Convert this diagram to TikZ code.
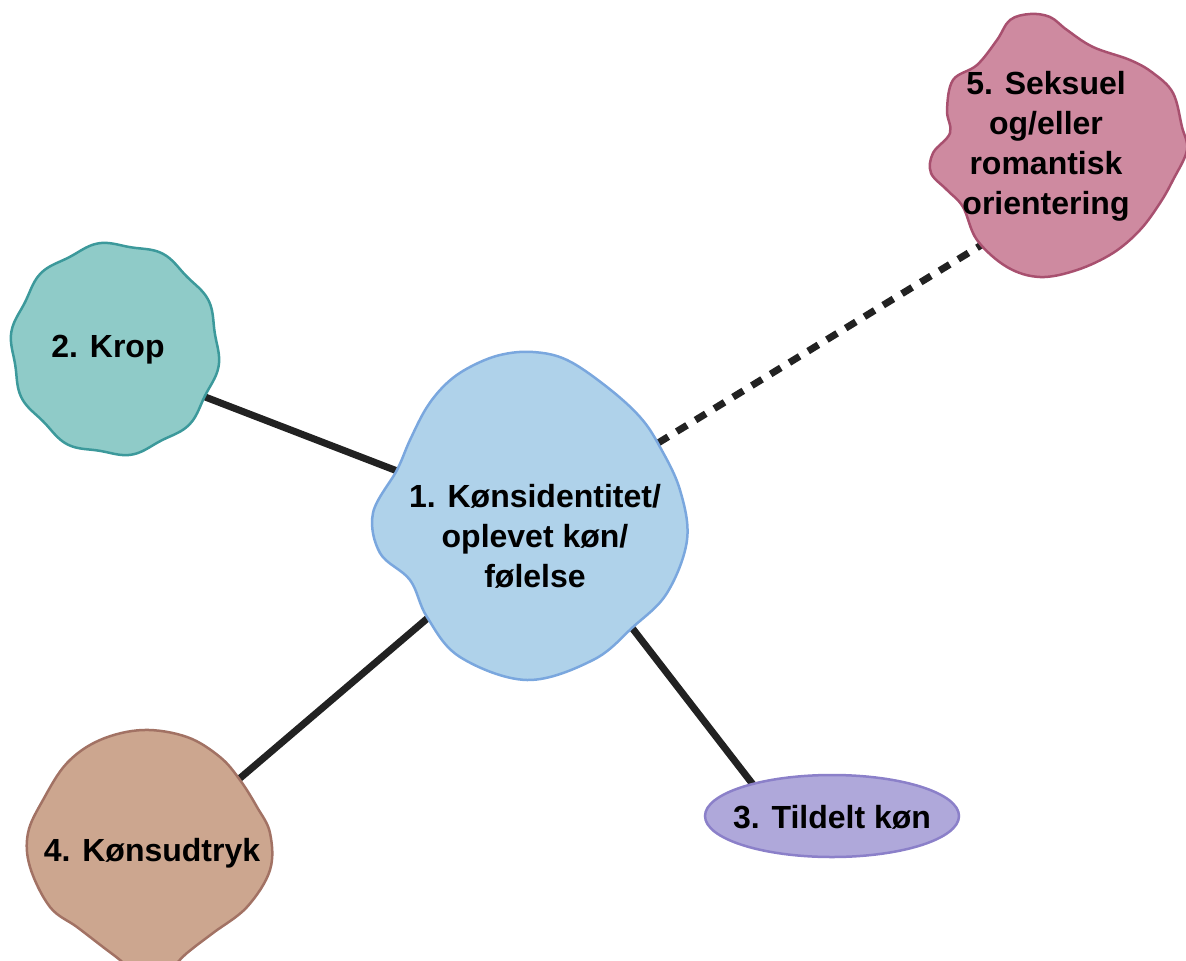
\documentclass[tikz,border=0pt]{standalone}
\usepackage{fontspec}
\setmainfont{Liberation Sans}
\usetikzlibrary{shapes.geometric}
\definecolor{blueF}{HTML}{AFD2EA}
\definecolor{blueD}{HTML}{7AA7DE}
\definecolor{tealF}{HTML}{8FCBC8}
\definecolor{tealD}{HTML}{3C999B}
\definecolor{brownF}{HTML}{CCA68F}
\definecolor{brownD}{HTML}{A27264}
\definecolor{pinkF}{HTML}{CE8AA0}
\definecolor{pinkD}{HTML}{A8506F}
\definecolor{purpF}{HTML}{AFA8DA}
\definecolor{purpD}{HTML}{8B80C9}
\definecolor{lineC}{HTML}{222222}
\tikzset{
  conn/.style={line width=7pt, draw=lineC},
  dotconn/.style={line width=7pt, draw=lineC, dash pattern=on 12pt off 10pt},
  lbl/.style={align=center, font=\bfseries\fontsize{32}{40}\selectfont, text=black, inner sep=0pt},
  blob/.style={line width=2.5pt},
}
\begin{document}
\begin{tikzpicture}[x=1pt,y=-1pt]
\useasboundingbox (0,0) rectangle (1186,961);
% connector end points
\coordinate (c2) at (200,395);
\coordinate (c1a) at (405,474);
\coordinate (c1b) at (436,611);
\coordinate (c4) at (232,785);
\coordinate (c1c) at (626,620);
\coordinate (c3) at (758,791);
\coordinate (c1d) at (658,443);
\coordinate (c5) at (988,241);
% connectors (behind shapes)
\draw[conn] (c2) -- (c1a);
\draw[conn] (c1b) -- (c4);
\draw[conn] (c1c) -- (c3);
\draw[dotconn] (c1d) -- (c5);
% blob 1
\draw[blob, fill=blueF, draw=blueD] plot[smooth cycle, tension=0.6] coordinates {
 (533,352) (567,360) (607,387) (640,417) (660,447) (680,490) (687,540)
 (667,593) (633,627) (593,660) (527,680) (460,657) (427,617) (410,580)
 (380,553) (373,513) (397,470) (410,440) (427,407) (447,383) (470,367) (500,355)};
% blob 2
\draw[blob, fill=tealF, draw=tealD] plot[smooth cycle, domain=0:357, samples=120]
 ({115+(103+2*sin(10*\x))*cos(\x)}, {349+(105+2*sin(10*\x))*sin(\x)});
% blob 4
\draw[blob, fill=brownF, draw=brownD] plot[smooth cycle, tension=0.6] coordinates {
 (143,730) (187,737) (220,757) (240,780) (257,807) (270,833) (270,870)
 (247,907) (213,933) (187,953) (150,985) (120,960) (103,947) (77,927)
 (50,907) (30,867) (28,833) (43,800) (67,763) (100,740)};
% blob 5
\draw[blob, fill=pinkF, draw=pinkD] plot[smooth cycle, tension=0.6] coordinates {
 (1030,14) (1050,17) (1067,30) (1093,47) (1130,60) (1153,73) (1173,93)
 (1182,127) (1187,150) (1173,180) (1160,203) (1140,230) (1113,253)
 (1077,270) (1040,277) (1007,267) (977,240) (963,207) (947,190) (931,173)
 (933,153) (950,133) (947,110) (953,80) (977,65) (997,40) (1010,20)};
% ellipse 3
\node[ellipse, minimum width=254pt, minimum height=82pt, fill=purpF, draw=purpD, line width=2.5pt] (e3) at (832,816) {};
% labels
\node[lbl] (n1) at (535,536) {1. Kønsidentitet/\\oplevet køn/\\følelse};
\node[lbl] (n2) at (108,350) {2. Krop};
\node[lbl] (n3) at (832,817) {3. Tildelt køn};
\node[lbl] (n4) at (152,853) {4. Kønsudtryk};
\node[lbl] (n5) at (1046,146) {5. Seksuel\\og/eller\\romantisk\\orientering};
\end{tikzpicture}
\end{document}
